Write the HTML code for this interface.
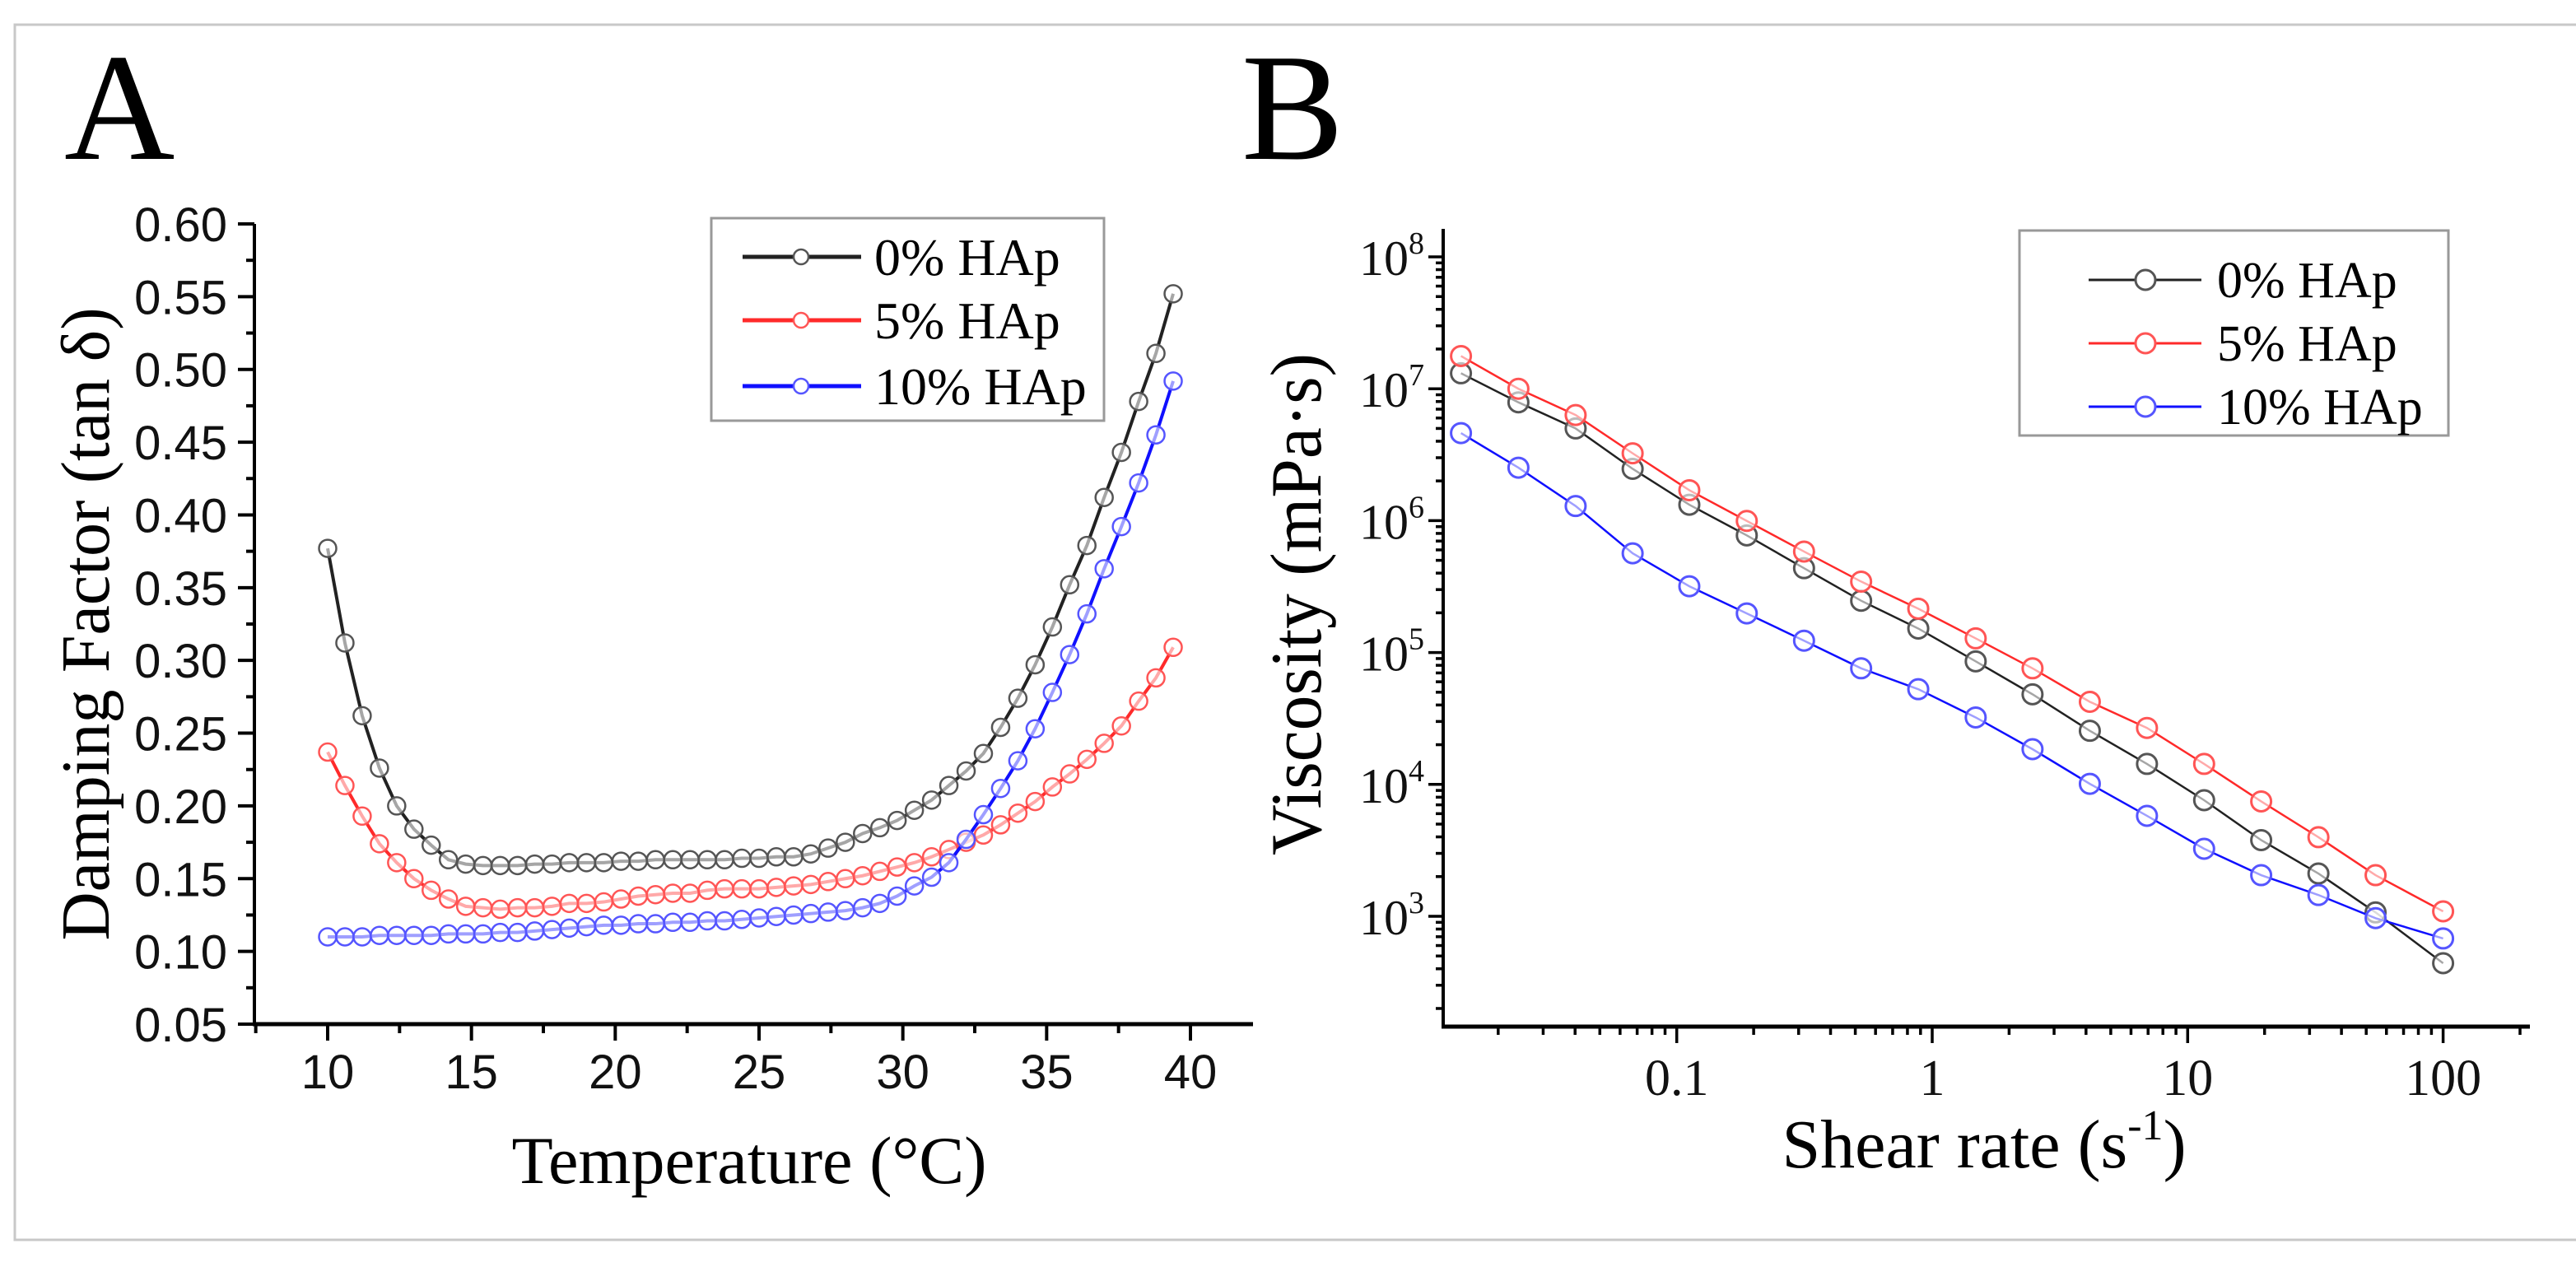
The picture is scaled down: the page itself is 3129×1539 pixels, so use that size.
<!DOCTYPE html>
<html><head><meta charset="utf-8"><style>
html,body{margin:0;padding:0;background:#fff;}
svg{display:block;}
</style></head><body>
<svg id="fig" width="3129" height="1539" viewBox="0 0 3129 1539" xmlns="http://www.w3.org/2000/svg">
<rect x="0" y="0" width="3129" height="1539" fill="#fff"/>
<path d="M3129 30 H18 V1506 H3129" fill="none" stroke="#c8c8c8" stroke-width="3"/>
<text x="78" y="193" font-family="Liberation Serif, serif" font-size="186" fill="#000">A</text>
<text x="1508" y="193" font-family="Liberation Serif, serif" font-size="186" fill="#000">B</text>
<g id="panelA"></g>
<g id="panelB"></g>
</svg>
<script>
// ---------- Panel A data ----------
const tempStart = 10, tempStep = 0.6;
const damp0 = [0.377,0.312,0.262,0.226,0.200,0.184,0.173,0.163,0.160,0.159,0.159,0.159,0.160,0.160,0.161,0.161,0.161,0.162,0.162,0.163,0.163,0.163,0.163,0.163,0.164,0.164,0.165,0.165,0.167,0.171,0.175,0.181,0.185,0.190,0.197,0.204,0.214,0.224,0.236,0.254,0.274,0.297,0.323,0.352,0.379,0.412,0.443,0.478,0.511,0.552];
const damp5 = [0.237,0.214,0.193,0.174,0.161,0.150,0.142,0.136,0.131,0.130,0.129,0.130,0.130,0.131,0.133,0.133,0.134,0.136,0.138,0.139,0.140,0.140,0.142,0.143,0.143,0.143,0.144,0.145,0.146,0.148,0.150,0.152,0.155,0.158,0.161,0.165,0.170,0.175,0.180,0.187,0.195,0.203,0.213,0.222,0.232,0.243,0.255,0.272,0.288,0.309];
const damp10 = [0.110,0.110,0.110,0.111,0.111,0.111,0.111,0.112,0.112,0.112,0.113,0.113,0.114,0.115,0.116,0.117,0.118,0.118,0.119,0.119,0.120,0.120,0.121,0.121,0.122,0.123,0.124,0.125,0.126,0.127,0.128,0.130,0.133,0.138,0.145,0.151,0.161,0.177,0.194,0.212,0.231,0.253,0.278,0.304,0.332,0.363,0.392,0.422,0.455,0.492];
const aXTicks = [10,15,20,25,30,35,40];
const aYTicks = [0.05,0.10,0.15,0.20,0.25,0.30,0.35,0.40,0.45,0.50,0.55,0.60];
const seriesNames = ["0% HAp","5% HAp","10% HAp"];
// ---------- Panel B data ----------
const shearRate = [0.0143,0.0240,0.0402,0.0672,0.112,0.188,0.315,0.527,0.882,1.48,2.47,4.14,6.93,11.6,19.4,32.5,54.4,100];
const visc0 = [1.31e7,7.89e6,5.00e6,2.47e6,1.32e6,7.73e5,4.36e5,2.47e5,1.52e5,8.57e4,4.82e4,2.55e4,1.43e4,7.59e3,3.78e3,2.11e3,1.07e3,4.41e2];
const visc5 = [1.77e7,1.00e7,6.32e6,3.24e6,1.70e6,9.95e5,5.83e5,3.45e5,2.15e5,1.28e5,7.59e4,4.23e4,2.68e4,1.43e4,7.43e3,3.98e3,2.05e3,1.09e3];
const visc10 = [4.61e6,2.52e6,1.29e6,5.65e5,3.18e5,1.98e5,1.23e5,7.59e4,5.27e4,3.22e4,1.85e4,1.01e4,5.78e3,3.25e3,2.05e3,1.45e3,9.68e2,6.79e2];
const bXTicks = [0.1,1,10,100];
const bYTicks = [3,4,5,6,7,8];

const NS = "http://www.w3.org/2000/svg";
function mk(parent, tag, attrs){
  const e = document.createElementNS(NS, tag);
  for (const k in attrs) e.setAttribute(k, attrs[k]);
  parent.appendChild(e);
  return e;
}
const colors = ["#222","#ff2a2a","#1010ff"];
const markerCols = ["#555","#ff5555","#5555ff"];

// ===== Panel A =====
const A = document.getElementById('panelA');
const ax0 = 309, ax1 = 1522, ay0 = 1244, ayTop = 272;
const xA = t => 398 + (t - 10) * (1446 - 398) / 30;
const yA = v => 1244 - (v - 0.05) * (1244 - 272) / 0.55;

let e;
e = mk(A,'line',{x1:ax0,y1:ayTop,x2:ax0,y2:ay0+2,stroke:'#000','stroke-width':4});


e = mk(A,'line',{x1:ax0-2,y1:ay0,x2:ax1,y2:ay0,stroke:'#000','stroke-width':5});


aYTicks.forEach((v,i)=>{
  const y = yA(v);
  e = mk(A,'line',{x1:ax0-20,y1:y,x2:ax0,y2:y,stroke:'#000','stroke-width':4});
  
  
  if (i < aYTicks.length-1){
    const ym = yA(v+0.025);
    e = mk(A,'line',{x1:ax0-10,y1:ym,x2:ax0,y2:ym,stroke:'#000','stroke-width':4});
    
    
  }
  e = mk(A,'text',{x:276,y:y+21,'text-anchor':'end','font-family':'Liberation Sans, sans-serif','font-size':58,fill:'#111'});
  e.textContent = v.toFixed(2);
  
  
});
aXTicks.forEach((t,i)=>{
  const x = xA(t);
  e = mk(A,'line',{x1:x,y1:ay0,x2:x,y2:ay0+20,stroke:'#000','stroke-width':4});
  
  
  e = mk(A,'text',{x:x,y:1322,'text-anchor':'middle','font-family':'Liberation Sans, sans-serif','font-size':58,fill:'#111'});
  e.textContent = t;
  
  
});
[7.5,12.5,17.5,22.5,27.5,32.5,37.5,42.5].forEach(t=>{
  const x = xA(t);
  if (x < ax0 || x > ax1) return;
  e = mk(A,'line',{x1:x,y1:ay0,x2:x,y2:ay0+11,stroke:'#000','stroke-width':4});
  
  
});
e = mk(A,'text',{x:910,y:1437,'text-anchor':'middle','font-family':'Liberation Serif, serif','font-size':82,fill:'#000',textLength:577,lengthAdjust:'spacingAndGlyphs'});
e.textContent = 'Temperature (°C)';


e = mk(A,'text',{x:0,y:0,transform:'translate(132,758) rotate(-90)','text-anchor':'middle','font-family':'Liberation Serif, serif','font-size':84,fill:'#000',textLength:769,lengthAdjust:'spacingAndGlyphs'});
e.textContent = 'Damping Factor (tan δ)';



[damp0,damp5,damp10].forEach((arr,si)=>{
  const pts = arr.map((v,i)=>[xA(tempStart+tempStep*i), yA(v)]);
  const g = mk(A,'g',{});
  
  
  e = mk(g,'polyline',{points:pts.map(p=>p.join(',')).join(' '),fill:'none',stroke:colors[si],'stroke-width':4});
  
  
  pts.forEach(p=>{
    e = mk(g,'circle',{cx:p[0],cy:p[1],r:10.5,fill:'#fff','fill-opacity':0.6,stroke:markerCols[si],'stroke-width':2.5});
    
    
  });
});
// legend A
const lgA = mk(A,'g',{});


mk(lgA,'rect',{x:864,y:265,width:477,height:246,fill:'#fff',stroke:'#999','stroke-width':3});
[312,389,469].forEach((y,i)=>{
  const g = mk(lgA,'g',{});
  
  
  mk(g,'line',{x1:902,y1:y,x2:1046,y2:y,stroke:colors[i],'stroke-width':5});
  mk(g,'circle',{cx:973,cy:y,r:9,fill:'#fff',stroke:markerCols[i],'stroke-width':2.5});
  const t = mk(g,'text',{x:1062,y:y+22,'font-family':'Liberation Serif, serif','font-size':64,fill:'#000'});
  t.textContent = seriesNames[i];
});

// ===== Panel B =====
const B = document.getElementById('panelB');
const bx0 = 1753, bx1 = 3073, by0 = 1247, byTop = 278;
const xB = s => 2347 + Math.log10(s) * 310.3;
const yB = v => 312 + (8 - Math.log10(v)) * 160.2;

e = mk(B,'line',{x1:bx0,y1:byTop,x2:bx0,y2:by0+2,stroke:'#000','stroke-width':4});


e = mk(B,'line',{x1:bx0-2,y1:by0,x2:bx1,y2:by0,stroke:'#000','stroke-width':5});


for (let d=2; d<=8; d++){
  for (let m=1; m<=9; m++){
    const y = yB(m*Math.pow(10,d));
    if (y < byTop || y > by0) continue;
    e = mk(B,'line',{x1:bx0-(m===1?18:9),y1:y,x2:bx0,y2:y,stroke:'#000','stroke-width':3.5});
    
    
  }
}
bYTicks.forEach(p=>{
  const y = yB(Math.pow(10,p));
  e = mk(B,'text',{x:1730,y:y+22,'text-anchor':'end','font-family':'Liberation Serif, serif','font-size':60,fill:'#111'});
  
  
  const t1 = mk(e,'tspan',{}); t1.textContent='10';
  const t2 = mk(e,'tspan',{dy:-26,'font-size':38}); t2.textContent=String(p);
});
for (let d=-2; d<=2; d++){
  for (let m=1; m<=9; m++){
    const x = xB(m*Math.pow(10,d));
    if (x < bx0 || x > bx1) continue;
    e = mk(B,'line',{x1:x,y1:by0,x2:x,y2:by0+(m===1?20:10),stroke:'#000','stroke-width':3.5});
    
    
  }
}
bXTicks.forEach(s=>{
  e = mk(B,'text',{x:xB(s),y:1330,'text-anchor':'middle','font-family':'Liberation Serif, serif','font-size':62,fill:'#111'});
  e.textContent = String(s);
  
  
});
e = mk(B,'text',{x:2410,y:1418,'text-anchor':'middle','font-family':'Liberation Serif, serif','font-size':84,fill:'#000'});


(function(){const a=mk(e,'tspan',{});a.textContent='Shear rate (s';const b=mk(e,'tspan',{dy:-34,'font-size':52});b.textContent='-1';const c=mk(e,'tspan',{dy:34});c.textContent=')';})();
e = mk(B,'text',{x:0,y:0,transform:'translate(1604,734) rotate(-90)','text-anchor':'middle','font-family':'Liberation Serif, serif','font-size':88,fill:'#000',textLength:610,lengthAdjust:'spacingAndGlyphs'});
e.textContent = 'Viscosity (mPa·s)';



[visc0,visc5,visc10].forEach((arr,si)=>{
  const pts = arr.map((v,i)=>[xB(shearRate[i]), yB(v)]);
  const g = mk(B,'g',{});
  
  
  e = mk(g,'polyline',{points:pts.map(p=>p.join(',')).join(' '),fill:'none',stroke:colors[si],'stroke-width':2.5});
  
  
  pts.forEach(p=>{
    e = mk(g,'circle',{cx:p[0],cy:p[1],r:12,fill:'#fff','fill-opacity':0.6,stroke:markerCols[si],'stroke-width':3});
    
    
  });
});
const lgB = mk(B,'g',{});


mk(lgB,'rect',{x:2453,y:280,width:521,height:249,fill:'#fff',stroke:'#999','stroke-width':3});
[340,417,494].forEach((y,i)=>{
  const g = mk(lgB,'g',{});
  
  
  mk(g,'line',{x1:2537,y1:y,x2:2674,y2:y,stroke:colors[i],'stroke-width':3});
  mk(g,'circle',{cx:2606,cy:y,r:12,fill:'#fff',stroke:markerCols[i],'stroke-width':3});
  const t = mk(g,'text',{x:2693,y:y+21,'font-family':'Liberation Serif, serif','font-size':62,fill:'#000'});
  t.textContent = seriesNames[i];
});
</script>
</body></html>
